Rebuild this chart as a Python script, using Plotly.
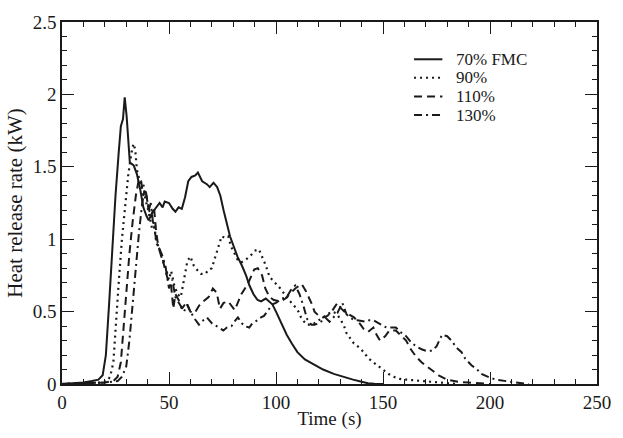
import plotly.graph_objects as go

# Heat release rate curves for four fuel moisture contents (FMC)
t_70 = [0, 5, 10, 14, 17, 19, 20.5, 22, 23.5, 25, 26.5, 27.5, 28.5, 29.3, 30.2, 31, 31.7, 33.5, 35, 36.6,
        38, 39.5, 40.5, 42, 44, 45.6, 47, 48, 50, 51.7, 53, 54.5, 56, 57.5, 59, 60.5, 62.3, 63.5, 65.5, 67.7,
        69, 70.8, 72.5, 74, 75.5, 77, 78.5, 80, 82, 84, 86, 87.6, 89.5, 91.4, 93, 95.2, 97, 98.3, 100, 102.8,
        105, 107.4, 110, 113.5, 118, 122, 127, 132, 136, 140, 143, 146, 150]
hrr_70 = [0, 0.005, 0.01, 0.02, 0.03, 0.06, 0.2, 0.55, 0.95, 1.3, 1.6, 1.78, 1.83, 1.98, 1.85, 1.66, 1.53, 1.51, 1.45, 1.34,
          1.22, 1.16, 1.13, 1.18, 1.22, 1.25, 1.22, 1.26, 1.25, 1.21, 1.19, 1.22, 1.21, 1.29, 1.40, 1.43, 1.44, 1.46, 1.40, 1.38,
          1.36, 1.39, 1.36, 1.3, 1.2, 1.1, 1.02, 0.96, 0.88, 0.82, 0.75, 0.68, 0.62, 0.58, 0.57, 0.59, 0.57, 0.55, 0.5, 0.41,
          0.34, 0.28, 0.22, 0.17, 0.13, 0.1, 0.07, 0.045, 0.03, 0.015, 0.005, 0.002, 0]

t_90 = [0, 10, 18, 21, 22.5, 24, 25, 26.5, 28, 29.5, 31, 32.5, 33.4, 34.2, 35, 36, 37, 38, 39, 40,
        41, 42, 43, 44, 45.5, 47, 48.5, 50, 51, 52.5, 54, 55.5, 57, 58.6, 60, 61.5, 63, 65, 67, 68.5,
        70, 72, 73, 74.6, 76, 77.7, 79, 80.5, 82, 83.8, 86, 88.3, 90, 92, 93.5, 95.2, 97, 98.3, 100, 102,
        104, 106, 108, 110.5, 112, 114.4, 117, 119, 121, 124, 126, 128, 130, 131.8, 133, 136.4, 139, 141, 143, 145.5,
        148, 150, 152.5, 155, 158, 161, 165, 170, 175, 180, 185]
hrr_90 = [0, 0.005, 0.01, 0.02, 0.05, 0.15, 0.4, 0.7, 1.0, 1.25, 1.45, 1.6, 1.66, 1.62, 1.48, 1.42, 1.35, 1.38, 1.27, 1.22,
          1.15, 1.08, 1.12, 0.98, 0.93, 0.88, 0.8, 0.72, 0.78, 0.68, 0.62, 0.6, 0.72, 0.85, 0.88, 0.82, 0.79, 0.76, 0.76, 0.79,
          0.8, 0.9, 0.94, 1.02, 1.01, 1.02, 0.95, 0.9, 0.86, 0.84, 0.86, 0.89, 0.92, 0.93, 0.88, 0.82, 0.74, 0.72, 0.69, 0.66,
          0.62, 0.58, 0.55, 0.5, 0.45, 0.41, 0.41, 0.43, 0.45, 0.48, 0.5, 0.49, 0.45, 0.4, 0.35, 0.28, 0.25, 0.22, 0.18, 0.15,
          0.12, 0.1, 0.07, 0.05, 0.035, 0.03, 0.025, 0.02, 0.015, 0.01, 0]

t_110 = [0, 10, 20, 24, 26, 27.5, 28.8, 30, 31.5, 33, 34.5, 36, 37, 38, 39, 40, 41.5, 43, 44, 45,
         46.5, 48, 49.5, 51, 52, 53, 54.5, 56, 58, 60, 62, 64, 66, 68.5, 70.5, 72.3, 73.8, 75.5, 77.7, 80.7,
         83.8, 86.8, 89.8, 91.5, 93.5, 95, 97, 99, 102, 104.4, 107, 109, 112, 114, 116.5, 118, 120, 122, 124, 126,
         128.7, 130.5, 132, 134, 136.4, 139, 141, 143, 145.5, 147, 148.6, 151, 153, 156, 158, 160.8, 163, 165.4, 168, 171.5,
         174, 176, 180, 185, 190, 195, 200]
hrr_110 = [0, 0.005, 0.01, 0.02, 0.05, 0.15, 0.41, 0.65, 0.9, 1.12, 1.3, 1.42, 1.4, 1.3, 1.35, 1.25, 1.15, 1.22, 1.05, 0.95,
           0.9, 0.8, 0.72, 0.68, 0.52, 0.62, 0.58, 0.52, 0.56, 0.5, 0.49, 0.54, 0.57, 0.6, 0.66, 0.63, 0.52, 0.56, 0.57, 0.51,
           0.62, 0.69, 0.79, 0.8, 0.75, 0.66, 0.6, 0.58, 0.57, 0.59, 0.63, 0.66, 0.69, 0.64, 0.56, 0.5, 0.47, 0.46, 0.47, 0.5,
           0.56, 0.52, 0.5, 0.48, 0.46, 0.42, 0.38, 0.36, 0.39, 0.34, 0.3, 0.33, 0.37, 0.37, 0.34, 0.3, 0.24, 0.19, 0.15, 0.11,
           0.08, 0.06, 0.03, 0.015, 0.01, 0.005, 0]

t_130 = [0, 10, 20, 26, 28, 30, 31.5, 33, 34.5, 36, 37.5, 38.5, 39.5, 40.5, 41.5, 42.5, 44, 45.5, 47, 48.5,
         50, 51.5, 53, 55, 57, 58.6, 60, 62, 64, 66, 67.7, 70, 72.3, 74, 75.4, 77, 79.2, 80.5, 82.2, 84,
         85.3, 87.5, 89, 91.4, 93, 94.4, 96.7, 98.3, 100, 102.8, 105, 107.4, 109, 111, 113, 114.5, 116.5, 118, 120.4, 123,
         125, 128.7, 131, 133, 136.4, 138, 141.7, 143.5, 145.5, 148, 151.6, 154, 156, 158, 160.8, 163, 165.4, 168, 170, 173,
         175, 177.6, 180, 182, 184.4, 186.7, 188.2, 191.3, 194, 196, 200.5, 203, 206.6, 212, 218]
hrr_130 = [0, 0.005, 0.01, 0.02, 0.05, 0.12, 0.3, 0.55, 0.82, 1.05, 1.25, 1.33, 1.3, 1.2, 1.25, 1.12, 1.0, 0.92, 0.85, 0.8,
           0.66, 0.72, 0.6, 0.55, 0.5, 0.55, 0.5, 0.45, 0.41, 0.44, 0.46, 0.42, 0.40, 0.38, 0.37, 0.39, 0.40, 0.43, 0.46, 0.42,
           0.40, 0.39, 0.42, 0.44, 0.46, 0.47, 0.52, 0.55, 0.56, 0.59, 0.6, 0.66, 0.68, 0.62, 0.53, 0.45, 0.41, 0.41, 0.42, 0.46,
           0.43, 0.49, 0.56, 0.48, 0.44, 0.44, 0.43, 0.44, 0.44, 0.42, 0.39, 0.39, 0.39, 0.36, 0.33, 0.29, 0.26, 0.24, 0.23, 0.23,
           0.26, 0.34, 0.33, 0.3, 0.25, 0.22, 0.18, 0.13, 0.1, 0.07, 0.04, 0.03, 0.02, 0.01, 0]

series = [
    ("70% FMC", t_70, hrr_70, "solid", 2.0),
    ("90%", t_90, hrr_90, "2px,4px", 2.2),
    ("110%", t_110, hrr_110, "8px,5px", 2.0),
    ("130%", t_130, hrr_130, "8px,4px,2px,4px", 2.0),
]

FONT = "Liberation Serif, Times New Roman, Times, serif"
INK = "#1a1a1a"
TICK_SIZE = 19

fig = go.Figure()
for name, t, hrr, dash, width in series:
    assert len(t) == len(hrr), name
    fig.add_trace(go.Scatter(x=t, y=hrr, mode="lines", name=name, showlegend=False,
                             line=dict(color=INK, width=width, dash=dash)))

# empty trace on the twin axes so that their tick marks are drawn
fig.add_trace(go.Scatter(x=[], y=[], xaxis="x2", yaxis="y2", mode="lines",
                         showlegend=False, hoverinfo="skip"))

major = dict(ticks="inside", ticklen=12, tickwidth=1.3, tickcolor=INK)
frame = dict(showline=True, linecolor=INK, linewidth=1.5, showgrid=False, zeroline=False)
x_minor = dict(ticks="inside", ticklen=5, tickwidth=1.2, tickcolor=INK, dtick=10, showgrid=False)
y_minor = dict(ticks="inside", ticklen=5, tickwidth=1.2, tickcolor=INK, dtick=0.1, showgrid=False)

fig.update_layout(
    width=623, height=438,
    margin=dict(l=62, r=15, t=14, b=45),
    paper_bgcolor="white", plot_bgcolor="white",
    font=dict(family=FONT, color=INK),
    showlegend=False,
    xaxis=dict(range=[0, 250], tick0=0, dtick=50, minor=x_minor, mirror=True,
               tickfont=dict(family=FONT, size=TICK_SIZE, color=INK),
               title=dict(text="Time (s)", font=dict(family=FONT, size=19, color=INK), standoff=0),
               **major, **frame),
    yaxis=dict(range=[0, 2.5], tick0=0, dtick=0.5, minor=y_minor, mirror=True,
               tickfont=dict(family=FONT, size=TICK_SIZE, color=INK),
               title=dict(text="Heat release rate (kW)", font=dict(family=FONT, size=21, color=INK), standoff=4),
               **major, **frame),
    # unlabelled twin axes carry the tick marks on the top and right edges
    xaxis2=dict(range=[0, 250], tick0=0, dtick=50, minor=x_minor, overlaying="x", side="top",
                anchor="y2", showticklabels=False, **major, **frame),
    yaxis2=dict(range=[0, 2.5], tick0=0, dtick=0.5, minor=y_minor, overlaying="y", side="right",
                anchor="x2", showticklabels=False, **major, **frame),
)

# Legend: line samples and labels in the upper right of the plot area
legend_x0, legend_x1, legend_text_x = 0.658, 0.711, 0.732
legend_y = [0.897, 0.846, 0.794, 0.743]
for (name, _, _, dash, width), ly in zip(series, legend_y):
    fig.add_shape(type="line", xref="paper", yref="paper",
                  x0=legend_x0, x1=legend_x1, y0=ly, y1=ly,
                  line=dict(color=INK, width=width, dash=dash))
    fig.add_annotation(text=name, xref="paper", yref="paper", x=legend_text_x, y=ly,
                       xanchor="left", yanchor="middle", showarrow=False,
                       font=dict(family=FONT, size=17, color=INK))

fig.write_html("out.html")
